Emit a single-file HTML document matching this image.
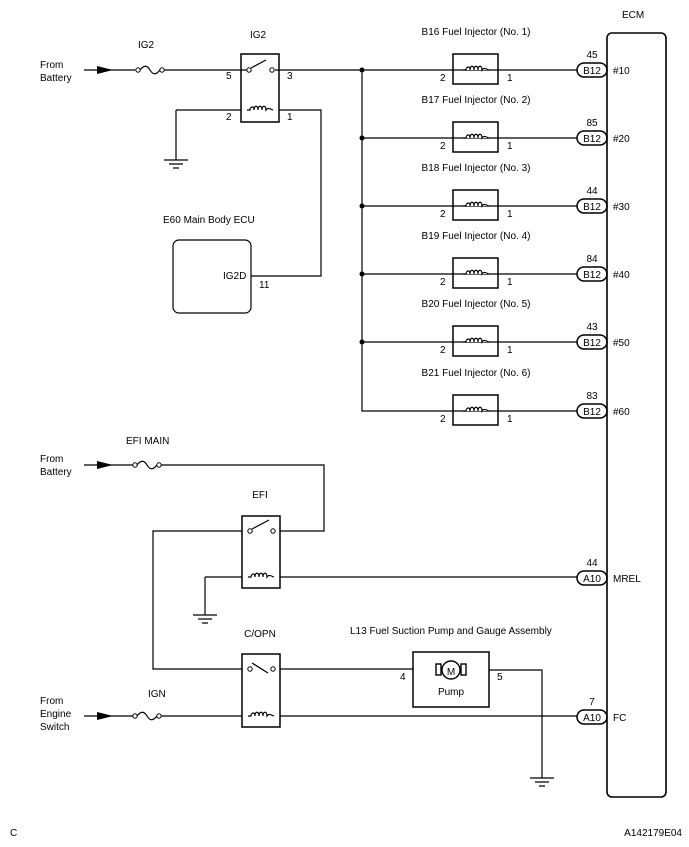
<!DOCTYPE html>
<html><head><meta charset="utf-8"><style>
body{margin:0;background:#fff}
svg{display:block}
text{font-family:"Liberation Sans",Arial,sans-serif;font-size:10px;fill:#000}
</style></head><body>
<svg width="689" height="847" viewBox="0 0 689 847" xmlns="http://www.w3.org/2000/svg">
<defs>
<g id="fuse"><circle cx="0" cy="0" r="2.2" fill="#fff" stroke="#000" stroke-width="1"/><path d="M2,0 C6,-5 9,-5 12,0 C15,5 18,5 22,0" fill="none" stroke="#000" stroke-width="1.2"/><circle cx="24" cy="0" r="2.2" fill="#fff" stroke="#000" stroke-width="1"/></g>
<g id="coil"><path d="M-13,0 L-10,0 C-10,-3 -6,-5 -6,0 C-6,-5 -2,-5 -2,0 C-2,-5 2,-5 2,0 C2,-5 6,-5 6,0 C8,-3 10,-1 13,0" fill="#fff" stroke="#000" stroke-width="1.2"/></g>
<g id="arrow"><path d="M0,-4 L16,0 L0,4 Z" fill="#000"/></g>
<g id="gnd"><path d="M-12,0 H12 M-7,4 H7 M-3,8 H3" stroke="#000" stroke-width="1.2"/></g>
<g id="dot"><circle r="2.5" fill="#000"/></g>
</defs>
<g fill="none" stroke="#000" stroke-width="1.2">
<rect x="607" y="33" width="59" height="764" rx="5" stroke-width="1.6"/>
<path d="M84,70 H135 M163,70 H241 M279,70 H362"/>
<rect x="241" y="54" width="38" height="68" stroke-width="1.5"/>
<path d="M241,70 H247 M251,68 L266,60 M275,70 H279"/>
<path d="M176,110 H241 M279,110 H321 V276 H251"/>
<path d="M176,110 V160"/>
<rect x="173" y="240" width="78" height="73" rx="6"/>
<path d="M362,70 V411 H453"/>
<path d="M362,70 H577 M362,138 H577 M362,206 H577 M362,274 H577 M362,342 H577 M453,411 H577"/>
<g stroke-width="1.5">
<rect x="453" y="54" width="45" height="30"/><rect x="453" y="122" width="45" height="30"/><rect x="453" y="190" width="45" height="30"/><rect x="453" y="258" width="45" height="30"/><rect x="453" y="326" width="45" height="30"/><rect x="453" y="395" width="45" height="30"/>
</g>
<g stroke-width="1.5">
<rect x="577" y="63" width="30" height="14" rx="7"/><rect x="577" y="131" width="30" height="14" rx="7"/><rect x="577" y="199" width="30" height="14" rx="7"/><rect x="577" y="267" width="30" height="14" rx="7"/><rect x="577" y="335" width="30" height="14" rx="7"/><rect x="577" y="404" width="30" height="14" rx="7"/>
<rect x="577" y="571" width="30" height="14" rx="7"/><rect x="577" y="710" width="30" height="14" rx="7"/>
</g>
<path d="M84,465 H135 M160,465 H324 V531 H280"/>
<rect x="242" y="516" width="38" height="72" stroke-width="1.5"/>
<path d="M242,531 H153 V669 H242 M252,529 L269,520"/>
<path d="M205,577 H242 M280,577 H577 M205,577 V615"/>
<rect x="242" y="654" width="38" height="73" stroke-width="1.5"/>
<path d="M252,663 L268,673 M280,669 H413 M489,670 H542 V778"/>
<path d="M84,716 H135 M160,716 H242 M280,716 H577"/>
<rect x="413" y="652" width="76" height="55" stroke-width="1.5"/>
</g>
<use href="#fuse" x="138" y="70"/>
<use href="#fuse" x="135" y="465"/>
<use href="#fuse" x="135" y="716"/>
<use href="#arrow" x="97" y="70"/>
<use href="#arrow" x="97" y="465"/>
<use href="#arrow" x="97" y="716"/>
<use href="#gnd" x="176" y="160"/>
<use href="#gnd" x="205" y="615"/>
<use href="#gnd" x="542" y="778"/>
<g fill="#fff" stroke="#000" stroke-width="1"><circle cx="249" cy="70" r="2.2"/><circle cx="272" cy="70" r="2.2"/>
<circle cx="250" cy="531" r="2.2"/><circle cx="273" cy="531" r="2.2"/>
<circle cx="250" cy="669" r="2.2"/><circle cx="273" cy="669" r="2.2"/></g>
<use href="#coil" x="260" y="110"/>
<use href="#coil" x="261" y="577"/>
<use href="#coil" x="261" y="716"/>
<use href="#coil" x="476" y="70"/><use href="#coil" x="476" y="138"/><use href="#coil" x="476" y="206"/><use href="#coil" x="476" y="274"/><use href="#coil" x="476" y="342"/><use href="#coil" x="476" y="411"/>
<use href="#dot" x="362" y="70"/><use href="#dot" x="362" y="138"/><use href="#dot" x="362" y="206"/><use href="#dot" x="362" y="274"/><use href="#dot" x="362" y="342"/>
<g stroke="#000" fill="#fff" stroke-width="1.4"><rect x="436" y="664" width="5" height="11"/><rect x="461" y="664" width="5" height="11"/><circle cx="451" cy="670" r="9"/></g>
<text x="451" y="675" text-anchor="middle" font-size="13">M</text>
<text x="451" y="695" text-anchor="middle">Pump</text>
<text x="622" y="18">ECM</text>
<text x="40" y="68">From</text><text x="40" y="81">Battery</text>
<text x="138" y="48">IG2</text><text x="250" y="38">IG2</text>
<text x="226" y="79">5</text><text x="287" y="79">3</text>
<text x="226" y="120">2</text><text x="287" y="120">1</text>
<text x="163" y="223">E60 Main Body ECU</text>
<text x="223" y="279">IG2D</text><text x="259" y="288">11</text>
<g text-anchor="middle">
<text x="476" y="35">B16 Fuel Injector (No. 1)</text>
<text x="476" y="103">B17 Fuel Injector (No. 2)</text>
<text x="476" y="171">B18 Fuel Injector (No. 3)</text>
<text x="476" y="239">B19 Fuel Injector (No. 4)</text>
<text x="476" y="307">B20 Fuel Injector (No. 5)</text>
<text x="476" y="376">B21 Fuel Injector (No. 6)</text>
<text x="592" y="74">B12</text><text x="592" y="142">B12</text><text x="592" y="210">B12</text><text x="592" y="278">B12</text><text x="592" y="346">B12</text><text x="592" y="415">B12</text>
<text x="592" y="582">A10</text><text x="592" y="721">A10</text>
<text x="592" y="58">45</text><text x="592" y="126">85</text><text x="592" y="194">44</text><text x="592" y="262">84</text><text x="592" y="330">43</text><text x="592" y="399">83</text>
<text x="592" y="566">44</text><text x="592" y="705">7</text>
<text x="260" y="498">EFI</text><text x="260" y="637">C/OPN</text>
</g>
<g><text x="440" y="81">2</text><text x="507" y="81">1</text><text x="440" y="149">2</text><text x="507" y="149">1</text><text x="440" y="217">2</text><text x="507" y="217">1</text><text x="440" y="285">2</text><text x="507" y="285">1</text><text x="440" y="353">2</text><text x="507" y="353">1</text><text x="440" y="422">2</text><text x="507" y="422">1</text></g>
<text x="613" y="74">#10</text><text x="613" y="142">#20</text><text x="613" y="210">#30</text><text x="613" y="278">#40</text><text x="613" y="346">#50</text><text x="613" y="415">#60</text>
<text x="613" y="582">MREL</text><text x="613" y="721">FC</text>
<text x="126" y="444">EFI MAIN</text>
<text x="40" y="462">From</text><text x="40" y="475">Battery</text>
<text x="350" y="634">L13 Fuel Suction Pump and Gauge Assembly</text>
<text x="400" y="680">4</text><text x="497" y="680">5</text>
<text x="148" y="697">IGN</text>
<text x="40" y="704">From</text><text x="40" y="717">Engine</text><text x="40" y="730">Switch</text>
<text x="10" y="836">C</text>
<text x="682" y="836" text-anchor="end" font-size="7">A142179E04</text>
</svg>
</body></html>
